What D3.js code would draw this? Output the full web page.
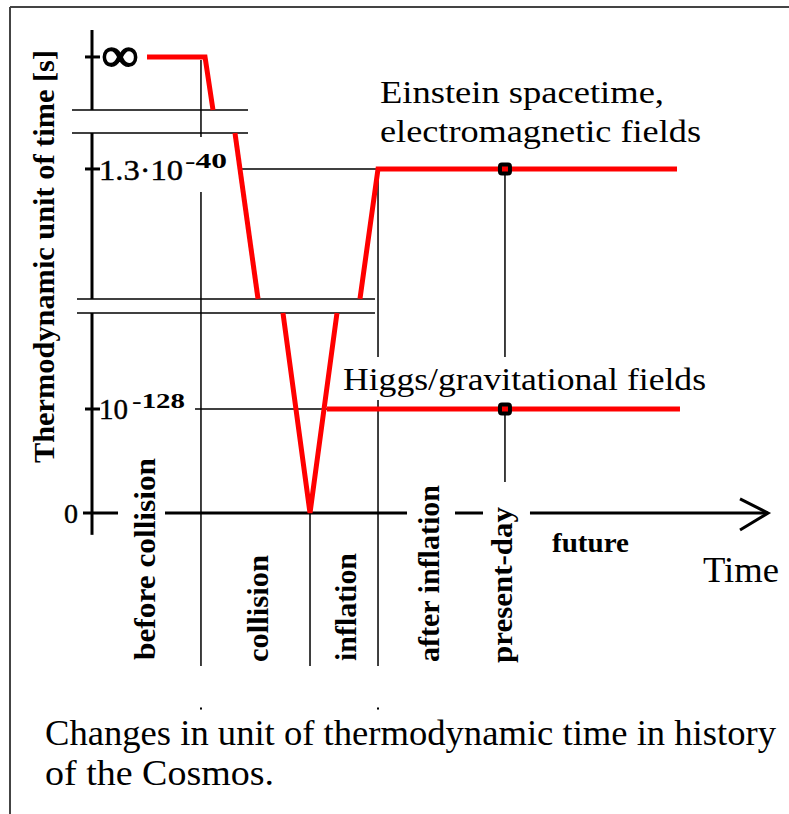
<!DOCTYPE html>
<html><head><meta charset="utf-8">
<script src="https://cdn.jsdelivr.net/npm/d3@7"></script>
<style>body{margin:0;background:#fff} svg{display:block} text{font-family:"Liberation Serif","DejaVu Serif","Times New Roman",serif;}</style>
</head><body>
<svg id="c" width="789" height="814"></svg>
<script>
// ---------------- data ----------------
// x: abstract cosmic-time units, y: display levels of the thermodynamic unit of time
const eraNames   = ["before collision", "collision", "inflation", "after inflation", "present-day"];
const eraLineX   = [1.612, 3.225, 4.231, 6.109];        // collision, inflation, after inflation, present-day
const yTickValues = [0, 1.0, 3.308, 4.385];
const yTickBase   = ["0", "10", "1.3\u00B710", "\u221E"];
const yTickExp    = ["", "-128", "-40", ""];
const axisBreaks  = [[1.923, 2.058], [3.654, 3.875]];    // pairs of levels where the y axis is broken
const breakSpanX  = [[-0.222, 4.186], [-0.296, 2.308]];

// red curves (x, level)
const seriesBefore    = [[0.814, 4.385], [1.672, 4.385], [1.790, 3.875]];
const seriesCollision = [[2.115, 3.654], [2.456, 2.058]];
const seriesInflation = [[2.825, 1.923], [3.225, 0], [3.624, 1.923]];
const seriesEinstein  = [[3.964, 2.058], [4.231, 3.308], [8.654, 3.308]];
const seriesHiggs     = [[3.476, 1.0], [8.698, 1.0]];
const presentMarks    = [[6.109, 3.308], [6.109, 1.0]];
const refLines        = [[[2.189, 3.308], [4.231, 3.308]], [[1.524, 1.0], [3.476, 1.0]]];

// ---------------- layout ----------------
const svg = d3.select("#c");
const W = 789, H = 814;
const x = d3.scaleLinear().domain([0, 10]).range([92, 768]);
const y = d3.scaleLinear().domain([0, 4.4]).range([513, 55.4]);
const line = d3.line().x(d => x(d[0])).y(d => y(d[1]));

// frame
svg.append("line").attr("x1", 10).attr("y1", 7).attr("x2", W).attr("y2", 7).attr("stroke", "#444").attr("stroke-width", 2);
svg.append("line").attr("x1", 10).attr("y1", 7).attr("x2", 10).attr("y2", H).attr("stroke", "#444").attr("stroke-width", 2);

const g = svg.append("g");

function vseg(xv, y0, y1, w) {
  g.append("line").attr("x1", x(xv)).attr("x2", x(xv)).attr("y1", y(y0)).attr("y2", y(y1))
    .attr("stroke", "#000").attr("stroke-width", w || 1.5);
}
function hseg(x0, x1, yv, w) {
  g.append("line").attr("x1", x(x0)).attr("x2", x(x1)).attr("y1", y(yv)).attr("y2", y(yv))
    .attr("stroke", "#000").attr("stroke-width", w || 1.5);
}

// era separator lines
vseg(eraLineX[0], 4.356, 3.615); vseg(eraLineX[0], 3.087, -1.471);
vseg(eraLineX[1], 0, -1.471);
vseg(eraLineX[2], 3.308, 1.5); vseg(eraLineX[2], 1.087, -1.471);
vseg(eraLineX[3], 3.308, 1.5); vseg(eraLineX[3], 1.0, 0.298);
// tiny remnants below
vseg(eraLineX[0], -1.87, -1.89, 2); vseg(eraLineX[2], -1.87, -1.89, 2);

// reference lines
refLines.forEach(r => hseg(r[0][0], r[1][0], r[0][1], 1.5));

// y axis with breaks
vseg(0, 4.644, axisBreaks[1][1], 3);
vseg(0, axisBreaks[1][0], axisBreaks[0][1], 3);
vseg(0, axisBreaks[0][0], -0.21, 3);
axisBreaks.forEach((b, i) => { hseg(breakSpanX[i][0], breakSpanX[i][1], b[0], 1.5); hseg(breakSpanX[i][0], breakSpanX[i][1], b[1], 1.5); });

// y ticks
yTickValues.forEach((v, i) => {
  if (v === 0) return;
  g.append("line").attr("x1", x(-0.104)).attr("x2", x(0.118)).attr("y1", y(v)).attr("y2", y(v))
    .attr("stroke", "#000").attr("stroke-width", 3);
});

// x axis (solid, gap for label, dashes, arrow)
hseg(-0.133, 0.385, 0, 3);
hseg(1.080, 4.660, 0, 3);
hseg(5.370, 5.784, 0, 3);
hseg(6.479, 10, 0, 3);
g.append("path").attr("d", line([[9.586, 0.135], [10, 0], [9.586, -0.163]]))
  .attr("fill", "none").attr("stroke", "#000").attr("stroke-width", 3);

// red curves
[seriesBefore, seriesCollision, seriesInflation, seriesEinstein, seriesHiggs].forEach(s => {
  g.append("path").attr("d", line(s)).attr("fill", "none").attr("stroke", "#ff0000")
    .attr("stroke-width", 5).attr("stroke-linejoin", "miter");
});

// present-day markers
g.selectAll(".mk").data(presentMarks).enter().append("rect")
  .attr("x", d => x(d[0]) - 5).attr("y", d => y(d[1]) - 4.5).attr("width", 10).attr("height", 9)
  .attr("rx", 2).attr("fill", "#ff0000").attr("stroke", "#000").attr("stroke-width", 4);

// ---------------- texts ----------------
function txt(s, px, py, opts) {
  const t = g.append("text").text(s).attr("x", px).attr("y", py)
    .style("font-size", opts.size + "px").attr("fill", "#000");
  if (opts.bold) t.style("font-weight", "bold");
  if (opts.len) t.attr("textLength", opts.len).attr("lengthAdjust", "spacingAndGlyphs");
  if (opts.rot) t.attr("transform", `rotate(-90 ${px} ${py})`);
  if (opts.stroke) t.attr("stroke", "#000").attr("stroke-width", opts.stroke);
  return t;
}

// tick labels
txt(yTickBase[3], 102, 71, {size: 48, bold: true, len: 36, stroke: 1.6});
txt(yTickBase[2], 99, 180, {size: 29, len: 84, stroke: 0.4});
txt(yTickExp[2], 185, 168, {size: 22, bold: true, len: 42});
txt(yTickBase[1], 99, 419, {size: 29, len: 29, stroke: 0.4});
txt(yTickExp[1], 132, 408, {size: 22, bold: true, len: 53});
txt(yTickBase[0], 64, 523, {size: 27, len: 14, stroke: 0.4});

// axis titles
txt("Thermodynamic unit of time [s]", 54, 463, {size: 29, bold: true, len: 413, rot: true});
txt("Time", 703, 582, {size: 36, len: 76});
txt("future", 552, 552, {size: 28, bold: true, len: 77});

// field labels
txt("Einstein spacetime,", 380, 103, {size: 32, len: 284});
txt("electromagnetic fields", 380, 142, {size: 32, len: 321});
txt("Higgs/gravitational fields", 343, 390, {size: 32, len: 363});

// era labels (vertical)
const eraPos = [[155, 660, 202], [268, 662, 107], [356, 661, 108], [439, 662, 177], [512, 663, 156]];
eraNames.forEach((n, i) => txt(n, eraPos[i][0], eraPos[i][1], {size: 29, bold: true, len: eraPos[i][2], rot: true}));

// caption
txt("Changes in unit of thermodynamic time in history", 45, 745, {size: 35, len: 731});
txt("of the Cosmos.", 45, 785, {size: 35, len: 229});
</script>
</body></html>
